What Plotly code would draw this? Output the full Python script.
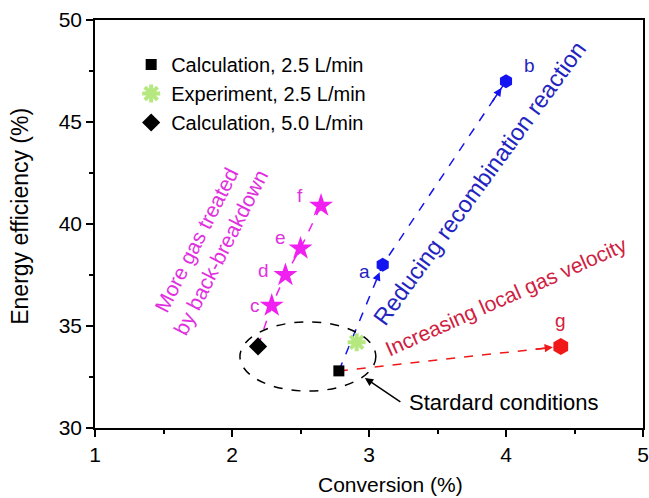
import plotly.graph_objects as go

# ---- data ----
x_ticks = [1, 2, 3, 4, 5]
y_ticks = [30, 35, 40, 45, 50]

calc25_x = [2.78]
calc25_y = [32.8]
exp25_x = [2.91]
exp25_y = [34.2]
calc50_x = [2.19]
calc50_y = [34.0]

recomb_labels = ["a", "b"]
recomb_x = [3.10, 4.00]
recomb_y = [38.0, 47.0]

backbd_labels = ["c", "d", "e", "f"]
backbd_x = [2.29, 2.39, 2.50, 2.65]
backbd_y = [36.0, 37.5, 38.8, 40.9]

velocity_labels = ["g"]
velocity_x = [4.40]
velocity_y = [34.0]

BLUE = "#1414f0"
MAG = "#f020f0"
RED = "#f01818"
GREEN = "#10dd10"
BLUE_T = "#2424c0"
MAG_T = "#e030e0"
RED_T = "#d02040"
FONT = "Liberation Sans, Arial, sans-serif"

fig = go.Figure()

# dashed connection paths
paths = [
    (calc25_x + recomb_x, calc25_y + recomb_y, BLUE),
    (calc50_x + backbd_x, calc50_y + backbd_y, MAG),
    (calc25_x + velocity_x, calc25_y + velocity_y, RED),
]
for px, py, col in paths:
    fig.add_trace(go.Scatter(x=px, y=py, mode="lines", showlegend=False,
                             line=dict(color=col, width=1.5, dash="dash"),
                             hoverinfo="skip"))

# markers
fig.add_trace(go.Scatter(x=recomb_x, y=recomb_y, mode="markers", showlegend=False,
                         marker=dict(symbol="hexagon", size=14, color=BLUE)))
fig.add_trace(go.Scatter(x=backbd_x, y=backbd_y, mode="markers", showlegend=False,
                         marker=dict(symbol="star", size=18, color=MAG)))
fig.add_trace(go.Scatter(x=velocity_x, y=velocity_y, mode="markers", showlegend=False,
                         marker=dict(symbol="hexagon", size=17, color=RED)))
fig.add_trace(go.Scatter(x=calc25_x, y=calc25_y, mode="markers",
                         name="Calculation, 2.5 L/min",
                         marker=dict(symbol="square", size=11, color="black")))
fig.add_trace(go.Scatter(x=exp25_x, y=exp25_y, mode="markers",
                         name="Experiment, 2.5 L/min",
                         marker=dict(symbol="asterisk-open", size=15,
                                     line=dict(color=GREEN, width=4))))
fig.add_trace(go.Scatter(x=calc50_x, y=calc50_y, mode="markers",
                         name="Calculation, 5.0 L/min",
                         marker=dict(symbol="diamond", size=14, color="black")))

annotations = []
# arrow heads on each segment
for px, py, col in paths:
    for i in range(1, len(px)):
        x0, y0, x1, y1 = px[i - 1], py[i - 1], px[i], py[i]
        annotations.append(dict(
            x=x1, y=y1, ax=x1 - 0.12 * (x1 - x0), ay=y1 - 0.12 * (y1 - y0),
            xref="x", yref="y", axref="x", ayref="y", text="",
            showarrow=True, arrowhead=2, arrowsize=1.1, arrowwidth=1.5,
            arrowcolor=col, standoff=8))

# point labels
label_shifts = {
    "a": (-18, -7), "b": (23, 16), "c": (-17, 0), "d": (-22, 5),
    "e": (-20, 11), "f": (-21, 10), "g": (0, 26),
}
for labs, xs, ys, col in [(recomb_labels, recomb_x, recomb_y, BLUE_T),
                          (backbd_labels, backbd_x, backbd_y, MAG_T),
                          (velocity_labels, velocity_x, velocity_y, RED_T)]:
    for lab, xx, yy in zip(labs, xs, ys):
        dx, dy = label_shifts[lab]
        annotations.append(dict(x=xx, y=yy, text=lab, showarrow=False,
                                xshift=dx, yshift=dy,
                                font=dict(size=19, color=col, family=FONT)))

# descriptive rotated texts
annotations += [
    dict(x=3.81, y=42.0, text="Reducing recombination reaction", showarrow=False,
         xanchor="center", yanchor="middle",
         textangle=-54, font=dict(size=23.5, color=BLUE_T, family=FONT)),
    dict(x=4.0, y=36.45, text="Increasing local gas velocity", showarrow=False,
         xanchor="center", yanchor="middle",
         textangle=-24, font=dict(size=21, color=RED_T, family=FONT)),
    dict(x=1.83, y=38.9, text="More gas treated<br>by back-breakdown", showarrow=False,
         xanchor="center", yanchor="middle",
         textangle=-63, font=dict(size=21, color=MAG_T, family=FONT)),
    dict(x=3.28, y=31.27, text="Stardard conditions", showarrow=False,
         xanchor="left", yanchor="middle", font=dict(size=22, color="black", family=FONT)),
    dict(x=2.97, y=32.45, ax=3.24, ay=31.23, xref="x", yref="y", axref="x", ayref="y",
         text="", showarrow=True, arrowhead=2, arrowsize=1.1, arrowwidth=1.5,
         arrowcolor="black"),
    # axis titles
    dict(x=0.54, y=-0.1397, xref="paper", yref="paper", text="Conversion (%)",
         xanchor="center", yanchor="middle",
         showarrow=False, font=dict(size=21, family=FONT, color="black")),
    dict(x=-0.137, y=0.52, xref="paper", yref="paper", text="Energy efficiency (%)",
         xanchor="center", yanchor="middle",
         showarrow=False, textangle=-90, font=dict(size=23, family=FONT, color="black")),
]

fig.add_shape(type="circle", xref="x", yref="y", x0=2.058, x1=3.05, y0=31.81, y1=35.2,
              line=dict(color="black", width=1.5, dash="dash"))

fig.update_layout(
    width=655, height=498,
    margin=dict(l=95, r=6, t=20, b=70),
    paper_bgcolor="white", plot_bgcolor="white",
    font=dict(family=FONT, size=21, color="black"),
    annotations=annotations,
    legend=dict(x=0.066, y=0.9387, xanchor="left", yanchor="top",
                font=dict(size=20), bgcolor="rgba(0,0,0,0)", tracegroupgap=0),
    xaxis=dict(range=[1, 5], tickvals=x_ticks, showgrid=False, zeroline=False,
               showline=True, linecolor="black", linewidth=1.5, mirror=True,
               ticks="outside", ticklen=7, tickwidth=1.5, tickcolor="black",
               ticklabeloverflow="allow",
               minor=dict(ticks="outside", ticklen=4, dtick=0.5, tickcolor="black", tickwidth=1.5),
               tickfont=dict(size=21)),
    yaxis=dict(range=[30, 50], tickvals=y_ticks, showgrid=False, zeroline=False,
               showline=True, linecolor="black", linewidth=1.5, mirror=True,
               ticks="outside", ticklen=7, tickwidth=1.5, tickcolor="black",
               minor=dict(ticks="outside", ticklen=4, dtick=2.5, tickcolor="black", tickwidth=1.5),
               tickfont=dict(size=21)),
)

fig.write_html("out.html", config={"displayModeBar": False},
               post_script="document.body.style.margin='0px';document.body.style.overflow='hidden';")
